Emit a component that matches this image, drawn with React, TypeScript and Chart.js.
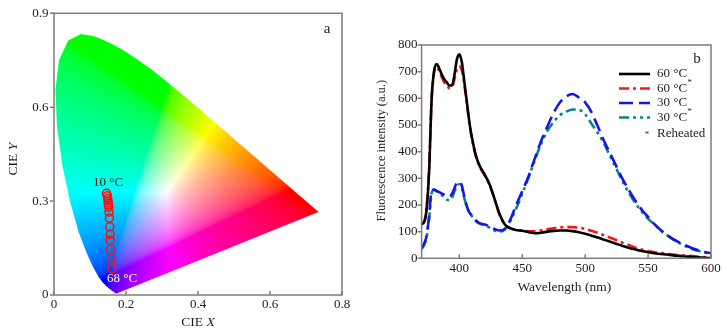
import React, { useEffect, useRef } from "react";
import { Chart, registerables } from "chart.js";
Chart.register(...registerables);

// ---------- Panel a: CIE 1931 chromaticity ----------
const locusX = [0.1741, 0.1740, 0.1738, 0.1736, 0.1733, 0.1730, 0.1726, 0.1721, 0.1714, 0.1703, 0.1689, 0.1669, 0.1644, 0.1611, 0.1566, 0.1510, 0.1440, 0.1355, 0.1241, 0.1096, 0.0913, 0.0687, 0.0454, 0.0235, 0.0082, 0.0039, 0.0139, 0.0389, 0.0743, 0.1142, 0.1547, 0.1929, 0.2296, 0.2658, 0.3016, 0.3373, 0.3731, 0.4087, 0.4441, 0.4788, 0.5125, 0.5448, 0.5752, 0.6029, 0.6270, 0.6482, 0.6658, 0.6801, 0.6915, 0.7006, 0.7079, 0.7140, 0.7190, 0.7230, 0.7260, 0.7300, 0.7320, 0.7334, 0.7347];
const locusY = [0.0050, 0.0050, 0.0049, 0.0049, 0.0048, 0.0048, 0.0048, 0.0048, 0.0051, 0.0058, 0.0069, 0.0086, 0.0109, 0.0138, 0.0177, 0.0227, 0.0297, 0.0399, 0.0578, 0.0868, 0.1327, 0.2007, 0.2950, 0.4127, 0.5384, 0.6548, 0.7502, 0.8120, 0.8338, 0.8262, 0.8059, 0.7816, 0.7543, 0.7243, 0.6923, 0.6589, 0.6245, 0.5896, 0.5547, 0.5202, 0.4866, 0.4544, 0.4242, 0.3965, 0.3725, 0.3514, 0.3340, 0.3197, 0.3083, 0.2993, 0.2920, 0.2859, 0.2809, 0.2770, 0.2740, 0.2700, 0.2680, 0.2666, 0.2653];
const cieTempX = [0.146, 0.148, 0.149, 0.150, 0.151, 0.151, 0.152, 0.153, 0.154, 0.155, 0.156, 0.156, 0.157, 0.159, 0.161];
const cieTempY = [0.325, 0.317, 0.309, 0.301, 0.294, 0.287, 0.280, 0.265, 0.246, 0.218, 0.194, 0.175, 0.147, 0.114, 0.084];
const cieTempLabels = ["10 °C", "68 °C"];
const cieXTicks = [0, 0.2, 0.4, 0.6, 0.8];
const cieYTicks = [0, 0.3, 0.6, 0.9];

// ---------- Panel b: fluorescence spectra ----------
const wavelengths = [370, 372, 374, 376, 378, 380, 382, 384, 386, 388, 390, 392, 394, 396, 398, 400, 402, 404, 406, 408, 410, 413, 416, 420, 424, 428, 432, 436, 440, 445, 450, 455, 460, 465, 470, 475, 480, 485, 490, 495, 500, 505, 510, 515, 520, 525, 530, 535, 540, 545, 550, 555, 560, 565, 570, 575, 580, 585, 590, 595, 600];
const int60 = [128, 135, 185, 330, 600, 705, 729, 712, 690, 672, 660, 648, 648, 685, 745, 765, 735, 660, 585, 510, 453, 388, 348, 315, 278, 222, 165, 128, 114, 106, 103, 98, 94, 96, 100, 103, 104, 104, 102, 98, 92, 85, 78, 70, 62, 54, 46, 39, 33, 27, 23, 19, 16, 14, 11, 9, 7, 5, 4, 2, 1];
const int60r = [132, 138, 190, 340, 600, 700, 718, 702, 680, 660, 648, 638, 640, 670, 710, 720, 705, 650, 580, 505, 448, 385, 345, 312, 275, 222, 163, 128, 113, 107, 104, 101, 101, 105, 109, 113, 116, 117, 117, 115, 110, 103, 96, 86, 77, 68, 58, 49, 40, 33, 27, 23, 20, 17, 14, 12, 10, 8, 6, 4, 3];
const int30 = [37, 55, 85, 160, 255, 258, 252, 248, 243, 238, 232, 232, 240, 262, 283, 287, 272, 230, 195, 172, 160, 143, 132, 127, 120, 110, 104, 110, 140, 198, 252, 308, 375, 440, 495, 546, 585, 607, 616, 603, 585, 548, 495, 440, 392, 343, 295, 254, 215, 182, 155, 128, 106, 88, 72, 59, 48, 38, 30, 24, 19];
const int30r = [35, 50, 80, 150, 245, 256, 252, 245, 238, 228, 220, 218, 225, 250, 272, 278, 262, 225, 192, 170, 158, 140, 130, 124, 115, 104, 100, 108, 135, 185, 242, 303, 368, 430, 478, 512, 537, 550, 558, 557, 540, 505, 470, 430, 381, 334, 286, 243, 206, 175, 148, 127, 105, 87, 70, 57, 45, 35, 28, 22, 18];
const seriesLabels = ["60 °C", "60 °C", "30 °C", "30 °C"];
const seriesReheated = [false, true, false, true];
const specXTicks = [400, 450, 500, 550, 600];
const specYTicks = [0, 100, 200, 300, 400, 500, 600, 700, 800];

const SERIF = "'Liberation Serif', 'DejaVu Serif', serif";
const TXT = "#1e1e1e";
const FRAME = "#7c7c7c";

function xyToRgb(x: number, y: number): [number, number, number] {
  const yy = Math.max(y, 0.002);
  const X = x / yy, Y = 1, Z = (1 - x - yy) / yy;
  let r = 3.2406 * X - 1.5372 * Y - 0.4986 * Z;
  let g = -0.9689 * X + 1.8758 * Y + 0.0415 * Z;
  let b = 0.0557 * X - 0.204 * Y + 1.057 * Z;
  r = Math.max(r, 0); g = Math.max(g, 0); b = Math.max(b, 0);
  const m = Math.max(r, g, b) || 1;
  const gam = (c: number) => (c <= 0.0031308 ? 12.92 * c : 1.055 * Math.pow(c, 1 / 2.4) - 0.055);
  return [gam(r / m) * 255, gam(g / m) * 255, gam(b / m) * 255];
}

const framePlugin = {
  id: "frameTicks",
  afterDraw(chart: any) {
    const { ctx, chartArea: a, scales } = chart;
    ctx.save();
    ctx.strokeStyle = FRAME;
    ctx.lineWidth = 1.5;
    ctx.strokeRect(a.left, a.top, a.right - a.left, a.bottom - a.top);
    ctx.beginPath();
    for (const t of scales.x.ticks) {
      const px = scales.x.getPixelForValue(t.value);
      ctx.moveTo(px, a.bottom);
      ctx.lineTo(px, a.bottom - 4);
    }
    for (const t of scales.y.ticks) {
      const py = scales.y.getPixelForValue(t.value);
      ctx.moveTo(a.left, py);
      ctx.lineTo(a.left - 4, py);
    }
    ctx.stroke();
    ctx.restore();
  },
};

const ciePlugin = {
  id: "cieFill",
  beforeDatasetsDraw(chart: any) {
    const { ctx, chartArea: a, scales } = chart;
    const pts = chart.getDatasetMeta(0).data;
    const w = Math.ceil(a.right - a.left), h = Math.ceil(a.bottom - a.top);
    const off = document.createElement("canvas");
    off.width = w; off.height = h;
    const octx = off.getContext("2d")!;
    const img = octx.createImageData(w, h);
    for (let j = 0; j < h; j++) {
      const cy = scales.y.getValueForPixel(a.top + j + 0.5);
      for (let i = 0; i < w; i++) {
        const cx = scales.x.getValueForPixel(a.left + i + 0.5);
        const [r, g, b] = xyToRgb(cx, cy);
        const k = (j * w + i) * 4;
        img.data[k] = r; img.data[k + 1] = g; img.data[k + 2] = b; img.data[k + 3] = 255;
      }
    }
    octx.putImageData(img, 0, 0);
    ctx.save();
    ctx.beginPath();
    pts.forEach((p: any, k: number) => (k ? ctx.lineTo(p.x, p.y) : ctx.moveTo(p.x, p.y)));
    ctx.closePath();
    ctx.clip();
    ctx.drawImage(off, a.left, a.top);
    ctx.restore();
  },
  afterDraw(chart: any) {
    const { ctx, chartArea: a } = chart;
    const pts = chart.getDatasetMeta(1).data;
    const p0 = pts[0], pn = pts[pts.length - 1];
    ctx.save();
    ctx.font = `13px ${SERIF}`;
    ctx.textBaseline = "middle";
    ctx.textAlign = "center";
    ctx.fillStyle = TXT;
    ctx.fillText(cieTempLabels[0], p0.x + 1.5, p0.y - 11);
    ctx.textAlign = "left";
    ctx.fillStyle = "#ffffff";
    ctx.fillText(cieTempLabels[1], pn.x - 5, pn.y + 10);
    // panel letter
    ctx.fillStyle = TXT;
    ctx.font = `15px ${SERIF}`;
    ctx.textAlign = "center";
    ctx.fillText("a", a.right - 15, a.top + 16);
    // axis titles
    const drawMixed = (cx: number, cy: number, a1: string, a2: string) => {
      ctx.font = `13.5px ${SERIF}`;
      const w1 = ctx.measureText(a1).width;
      ctx.font = `italic 13.5px ${SERIF}`;
      const w2 = ctx.measureText(a2).width;
      const sx = cx - (w1 + w2) / 2;
      ctx.textAlign = "left";
      ctx.font = `13.5px ${SERIF}`;
      ctx.fillText(a1, sx, cy);
      ctx.font = `italic 13.5px ${SERIF}`;
      ctx.fillText(a2, sx + w1, cy);
    };
    drawMixed((a.left + a.right) / 2, 322, "CIE ", "X");
    ctx.save();
    ctx.translate(13.5, (a.top + a.bottom) / 2 + 5);
    ctx.rotate(-Math.PI / 2);
    drawMixed(0, 0, "CIE ", "Y");
    ctx.restore();
    ctx.restore();
  },
};

const specPlugin = {
  id: "specDeco",
  afterDraw(chart: any) {
    const { ctx, chartArea: a } = chart;
    ctx.save();
    ctx.textBaseline = "middle";
    const x0 = a.right - 92, x1 = a.right - 61, tx = a.right - 54;
    chart.data.datasets.forEach((ds: any, i: number) => {
      const yy = a.top + 29 + i * 14.5;
      ctx.save();
      ctx.strokeStyle = ds.borderColor;
      ctx.lineWidth = ds.borderWidth;
      ctx.setLineDash(ds.borderDash || []);
      ctx.beginPath();
      ctx.moveTo(x0, yy);
      ctx.lineTo(x1, yy);
      ctx.stroke();
      ctx.restore();
      ctx.fillStyle = TXT;
      ctx.font = `13px ${SERIF}`;
      ctx.textAlign = "left";
      ctx.fillText(seriesLabels[i], tx, yy);
      if (seriesReheated[i]) {
        const w = ctx.measureText(seriesLabels[i]).width;
        ctx.font = `9px ${SERIF}`;
        ctx.fillText("*", tx + w + 0.5, yy - 6);
      }
    });
    const yr = a.top + 29 + 4 * 14.5 + 1.5;
    ctx.fillStyle = TXT;
    ctx.font = `9px ${SERIF}`;
    ctx.textAlign = "center";
    ctx.fillText("*", a.right - 64, yr + 1);
    ctx.font = `13px ${SERIF}`;
    ctx.textAlign = "left";
    ctx.fillText("Reheated", tx, yr);
    ctx.font = `15px ${SERIF}`;
    ctx.textAlign = "center";
    ctx.fillText("b", a.right - 14, a.top + 14);
    ctx.font = `13.5px ${SERIF}`;
    ctx.fillText("Wavelength (nm)", (a.left + a.right) / 2 - 2, 287);
    ctx.save();
    ctx.translate(21.5, (a.top + a.bottom) / 2 - 1);
    ctx.rotate(-Math.PI / 2);
    ctx.font = `12.5px ${SERIF}`;
    ctx.fillText("Fluorescence intensity (a.u.)", 0, 0);
    ctx.restore();
    ctx.restore();
  },
};

const tickFont = { family: SERIF, size: 13 };

export default function App() {
  const leftRef = useRef<HTMLCanvasElement>(null);
  const rightRef = useRef<HTMLCanvasElement>(null);

  useEffect(() => {
    const left = new Chart(leftRef.current!, {
      type: "scatter",
      data: {
        datasets: [
          {
            data: locusX.map((x, i) => ({ x, y: locusY[i] })),
            showLine: false,
            pointRadius: 0,
            pointHoverRadius: 0,
          },
          {
            data: cieTempX.map((x, i) => ({ x, y: cieTempY[i] })),
            showLine: false,
            pointRadius: 4,
            pointBorderWidth: 1.6,
            pointBorderColor: "#ff1010",
            pointBackgroundColor: "rgba(0,0,0,0)",
          },
        ],
      },
      options: {
        responsive: false,
        animation: false,
        events: [],
        layout: { padding: { top: 9.5, right: 18, left: 0, bottom: 0 } },
        plugins: { legend: { display: false }, tooltip: { enabled: false } },
        scales: {
          x: {
            type: "linear",
            min: 0,
            max: 0.8,
            grid: { display: false, drawTicks: false },
            border: { display: false },
            afterBuildTicks: (s: any) => { s.ticks = cieXTicks.map((v) => ({ value: v })); },
            afterFit: (s: any) => { s.height = 39; },
            ticks: {
              padding: 1.5,
              color: TXT,
              font: tickFont,
              maxRotation: 0,
              callback: (v: any) => (v === 0 ? "0" : Number(v).toFixed(1)),
            },
          },
          y: {
            type: "linear",
            min: 0,
            max: 0.9,
            grid: { display: false, drawTicks: false },
            border: { display: false },
            afterBuildTicks: (s: any) => { s.ticks = cieYTicks.map((v) => ({ value: v })); },
            afterFit: (s: any) => { s.width = 54; },
            ticks: {
              padding: 5.5,
              color: TXT,
              font: tickFont,
              callback: (v: any) => (v === 0 ? "0" : Number(v).toFixed(1)),
            },
          },
        },
      },
      plugins: [ciePlugin, framePlugin],
    } as any);

    const mk = (vals: number[]) => wavelengths.map((x, i) => ({ x, y: vals[i] }));
    const common = { pointRadius: 0, fill: false, cubicInterpolationMode: "monotone", borderWidth: 2.6 };
    const right = new Chart(rightRef.current!, {
      type: "line",
      data: {
        datasets: [
          { ...common, data: mk(int60), borderColor: "#000000", borderDash: [] },
          { ...common, data: mk(int60r), borderColor: "#ff1414", borderDash: [10, 4, 3, 4] },
          { ...common, data: mk(int30), borderColor: "#1414f0", borderDash: [14, 6] },
          { ...common, data: mk(int30r), borderColor: "#0b8282", borderDash: [10, 4, 3, 4, 3, 4] },
        ],
      },
      options: {
        responsive: false,
        animation: false,
        events: [],
        layout: { padding: { top: 45, right: 16, left: 0, bottom: 0 } },
        plugins: { legend: { display: false }, tooltip: { enabled: false } },
        scales: {
          x: {
            type: "linear",
            min: 370,
            max: 600,
            grid: { display: false, drawTicks: false },
            border: { display: false },
            afterBuildTicks: (s: any) => { s.ticks = specXTicks.map((v) => ({ value: v })); },
            afterFit: (s: any) => { s.height = 75.7; },
            ticks: { padding: 2, color: TXT, font: tickFont, maxRotation: 0 },
          },
          y: {
            type: "linear",
            min: 0,
            max: 800,
            grid: { display: false, drawTicks: false },
            border: { display: false },
            afterBuildTicks: (s: any) => { s.ticks = specYTicks.map((v) => ({ value: v })); },
            afterFit: (s: any) => { s.width = 61.6; },
            ticks: { padding: 4, color: TXT, font: tickFont },
          },
        },
      },
      plugins: [framePlugin, specPlugin],
    } as any);

    return () => {
      left.destroy();
      right.destroy();
    };
  }, []);

  return (
    <div style={{ position: "absolute", left: 0, top: 0, width: 727, height: 334, background: "#ffffff" }}>
      <canvas ref={leftRef} width={360} height={334} style={{ position: "absolute", left: 0, top: 0, width: 360, height: 334 }} />
      <canvas ref={rightRef} width={367} height={334} style={{ position: "absolute", left: 360, top: 0, width: 367, height: 334 }} />
    </div>
  );
}
